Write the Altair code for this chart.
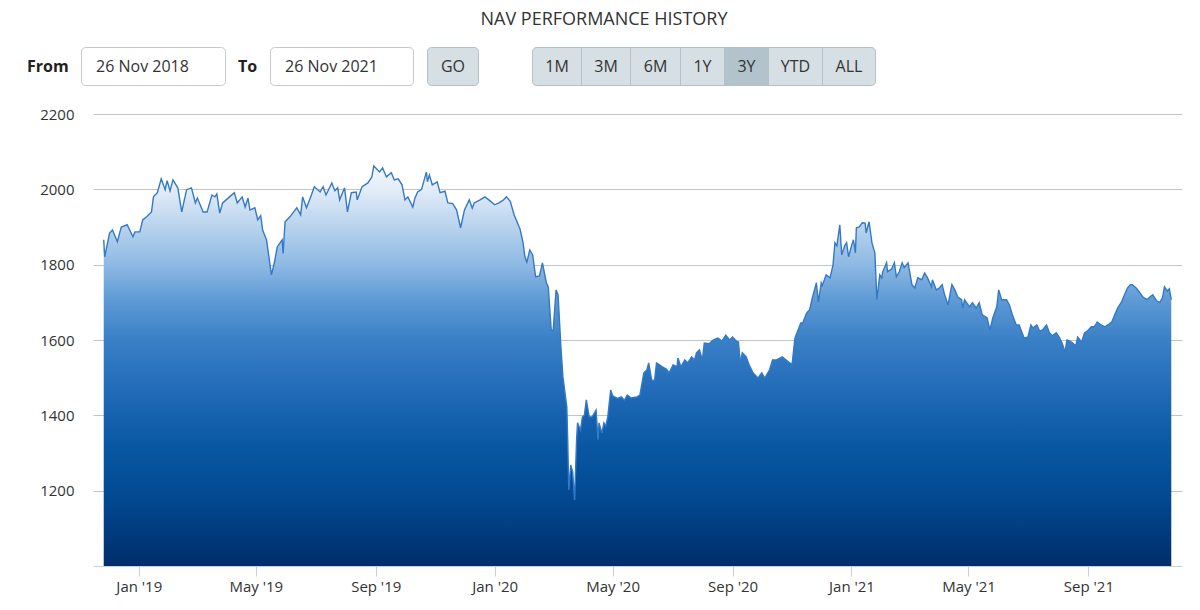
import altair as alt
import pandas as pd

# ---------------- data ----------------
start_date = "2018-11-26"
day_offset = [
    0, 1, 6, 9, 14, 18, 24, 30, 32, 37, 40, 44, 49, 51, 55, 59, 63, 65, 68, 71,
    76, 80, 85, 90, 94, 96, 102, 106, 111, 114, 116, 119, 122, 129, 134, 137, 142, 145, 148, 150,
    155, 158, 161, 163, 167, 172, 175, 178, 183, 184, 186, 191, 198, 202, 204, 208, 213, 216, 222, 225,
    228, 234, 237, 240, 242, 247, 250, 254, 259, 260, 265, 268, 271, 275, 277, 283, 286, 290, 295, 298,
    302, 306, 309, 312, 317, 319, 322, 326, 331, 332, 334, 337, 342, 345, 350, 353, 358, 362, 366, 370,
    375, 378, 380, 386, 391, 396, 401, 406, 410, 413, 417, 421, 427, 430, 432, 434, 437, 440, 443, 447,
    450, 454, 456, 459, 461, 464, 466, 469, 471, 475, 476, 477, 479, 481, 483, 485, 486, 489, 491, 493,
    495, 498, 501, 505, 507, 508, 511, 513, 515, 517, 520, 522, 524, 527, 531, 534, 537, 541, 547, 550,
    554, 557, 559, 562, 565, 567, 570, 573, 577, 580, 584, 588, 589, 592, 596, 599, 603, 606, 608, 611,
    614, 616, 621, 625, 630, 634, 638, 642, 645, 649, 651, 653, 655, 659, 662, 666, 671, 675, 678, 683,
    686, 690, 696, 700, 706, 709, 715, 717, 721, 724, 727, 731, 733, 736, 737, 741, 745, 748, 750, 752,
    755, 757, 760, 762, 764, 767, 769, 771, 772, 775, 778, 781, 782, 785, 788, 791, 793, 796, 798, 799,
    803, 804, 808, 811, 813, 816, 819, 821, 825, 829, 832, 835, 839, 842, 845, 849, 850, 854, 857, 860,
    862, 866, 870, 873, 876, 880, 881, 883, 888, 891, 895, 898, 901, 906, 909, 912, 916, 918, 921, 926,
    929, 932, 936, 939, 944, 948, 951, 953, 957, 960, 963, 967, 970, 973, 977, 980, 983, 986, 988, 991,
    994, 997, 999, 1003, 1006, 1009, 1013, 1016, 1019, 1023, 1027, 1030, 1034, 1037, 1040, 1044, 1047, 1050, 1053, 1055,
    1059, 1062, 1066, 1070, 1073, 1076, 1080, 1083, 1086, 1088, 1091, 1093, 1095,
]
nav = [
    1866, 1821, 1884, 1892, 1861, 1900, 1906, 1874, 1887, 1887, 1919, 1927, 1940, 1980, 1991, 2028, 1999, 2023, 1996, 2025,
    2004, 1940, 1999, 2004, 1964, 1977, 1940, 1940, 1985, 1980, 1988, 1937, 1964, 1980, 1991, 1964, 1980, 1953, 1977, 1945,
    1951, 1919, 1930, 1892, 1866, 1773, 1805, 1847, 1866, 1830, 1914, 1927, 1951, 1932, 1980, 1951, 1985, 2007, 1993, 2007,
    1985, 2017, 1996, 2004, 1972, 2004, 1940, 1991, 1993, 1972, 2007, 2012, 2017, 2033, 2062, 2046, 2057, 2033, 2044, 2025,
    2028, 2012, 1972, 1980, 1953, 1975, 1993, 2000, 2046, 2020, 2038, 2012, 2020, 1991, 1995, 1964, 1962, 1945, 1898, 1945,
    1972, 1950, 1964, 1972, 1980, 1970, 1959, 1965, 1972, 1980, 1968, 1932, 1895, 1860, 1821, 1807, 1839, 1826, 1768, 1770,
    1805, 1752, 1740, 1627, 1625, 1733, 1720, 1579, 1502, 1422, 1327, 1202, 1268, 1250, 1175, 1335, 1380, 1361, 1396, 1400,
    1441, 1396, 1396, 1414, 1335, 1380, 1353, 1380, 1372, 1396, 1467, 1452, 1449, 1445, 1449, 1440, 1454, 1446, 1449, 1454,
    1513, 1520, 1539, 1494, 1492, 1539, 1534, 1529, 1523, 1513, 1534, 1529, 1552, 1529, 1547, 1539, 1555, 1547, 1566, 1574,
    1547, 1592, 1590, 1600, 1605, 1597, 1613, 1600, 1608, 1597, 1595, 1539, 1566, 1555, 1534, 1513, 1499, 1513, 1499, 1521,
    1547, 1547, 1555, 1547, 1534, 1605, 1645, 1645, 1672, 1680, 1714, 1752, 1701, 1752, 1745, 1773, 1765, 1799, 1858, 1850,
    1906, 1826, 1850, 1858, 1821, 1850, 1866, 1831, 1898, 1900, 1911, 1910, 1884, 1914, 1858, 1831, 1707, 1773, 1765, 1781,
    1805, 1781, 1788, 1805, 1768, 1781, 1805, 1792, 1805, 1747, 1738, 1765, 1760, 1778, 1765, 1741, 1760, 1733, 1738, 1747,
    1725, 1693, 1747, 1733, 1714, 1707, 1685, 1707, 1688, 1699, 1685, 1699, 1667, 1659, 1627, 1659, 1688, 1733, 1707, 1707,
    1693, 1667, 1640, 1640, 1605, 1608, 1640, 1632, 1640, 1624, 1627, 1640, 1619, 1611, 1619, 1608, 1592, 1568, 1600, 1597,
    1592, 1584, 1608, 1595, 1619, 1624, 1635, 1635, 1648, 1640, 1635, 1640, 1648, 1667, 1685, 1701, 1720, 1738, 1747, 1747,
    1738, 1728, 1714, 1707, 1714, 1720, 1704, 1699, 1712, 1741, 1730, 1736, 1707,
]
y_ticks = [1200, 1400, 1600, 1800, 2000, 2200]
x_tick_months = [(2019, 1), (2019, 5), (2019, 9), (2020, 1), (2020, 5), (2020, 9),
                 (2021, 1), (2021, 5), (2021, 9)]
title_text = "NAV PERFORMANCE HISTORY"
from_date_text = "26 Nov 2018"
to_date_text = "26 Nov 2021"
range_buttons = ["1M", "3M", "6M", "1Y", "3Y", "YTD", "ALL"]
selected_button = "3Y"

# ---------------- build table ----------------
dates = pd.Timestamp(start_date) + pd.to_timedelta(day_offset, unit="D")
df = pd.DataFrame({"date": dates.strftime("%Y-%m-%dT00:00:00"), "nav": nav})

FONT = "Open Sans"
TXT = "#333333"

x_enc = alt.X(
    "date:T",
    scale=alt.Scale(domain=[alt.DateTime(year=2018, month=11, date=15),
                            alt.DateTime(year=2021, month=12, date=6)]),
    axis=alt.Axis(
        values=[alt.DateTime(year=y, month=m, date=1) for y, m in x_tick_months],
        format="%b '%y", title=None, grid=False,
        labelFont=FONT, labelFontSize=15, labelColor=TXT, labelPadding=3,
        domainColor="#c3d0dd", tickColor="#c3d0dd", tickSize=10,
        labelFlush=False, labelOverlap=False, zindex=1,
    ),
)
y_enc = alt.Y(
    "nav:Q",
    scale=alt.Scale(domain=[1000, 2200], zero=False, nice=False),
    axis=alt.Axis(
        values=y_ticks, format="d", title=None, grid=True, gridColor="#c4c4c4", gridWidth=1,
        domain=False, ticks=False, labelFont=FONT, labelFontSize=15,
        labelColor=TXT, labelPadding=19,
    ),
)

gradient = alt.Gradient(
    gradient="linear", x1=1, x2=1, y1=0, y2=1,
    stops=[
        alt.GradientStop(color="#f4f8fc", offset=0.0),
        alt.GradientStop(color="#e2ecf7", offset=0.06),
        alt.GradientStop(color="#c0d7ef", offset=0.135),
        alt.GradientStop(color="#8cb8e3", offset=0.25),
        alt.GradientStop(color="#5e9ad5", offset=0.335),
        alt.GradientStop(color="#3a80c7", offset=0.435),
        alt.GradientStop(color="#1d67b5", offset=0.585),
        alt.GradientStop(color="#0856a2", offset=0.71),
        alt.GradientStop(color="#024890", offset=0.835),
        alt.GradientStop(color="#002d6b", offset=1.0),
    ],
)

base = alt.Chart(df)
area = base.mark_area(color=gradient, interpolate="linear").encode(
    x=x_enc, y=y_enc, y2=alt.datum(1000)
)
line = base.mark_line(color="#3479c6", strokeWidth=1.4).encode(x="date:T", y="nav:Q")

# ---------------- header widgets (page pixel -> plot coords: x-93, y-114) ----------------
OX, OY = 93, 114
one = alt.Data(values=[{"k": 0}])


def box(x0, x1, y0, y1, fill, stroke, radius=4):
    return alt.Chart(one).mark_rect(fill=fill, stroke=stroke, strokeWidth=1,
                                    cornerRadius=radius).encode(
        x=alt.value(x0 - OX), x2=alt.value(x1 - OX),
        y=alt.value(y0 - OY), y2=alt.value(y1 - OY))


def label(s, x, y, size=16, weight="normal", align="left", color=TXT):
    return alt.Chart(one).mark_text(text=s, font=FONT, fontSize=size, fontWeight=weight,
                                    align=align, baseline="middle", color=color).encode(
        x=alt.value(x - OX), y=alt.value(y - OY))


def vline(x, y0, y1, color):
    return alt.Chart(one).mark_rule(color=color, strokeWidth=1).encode(
        x=alt.value(x - OX), y=alt.value(y0 - OY), y2=alt.value(y1 - OY))


BTN = "#d6dfe4"
BTN_SEL = "#b3c3cb"
BTN_BORDER = "#b3c0c7"
top, bot, mid = 47.5, 85.5, 67

widgets = [
    label(title_text, 604, 20, size=18, align="center"),
    label("From", 27, mid, weight="bold", color="#222222"),
    box(81.5, 225.5, top, bot, "#ffffff", "#c9c9c9"),
    label(from_date_text, 96, mid),
    label("To", 238, mid, weight="bold", color="#222222"),
    box(270.5, 413.5, top, bot, "#ffffff", "#c9c9c9"),
    label(to_date_text, 285, mid),
    box(427.5, 478.5, top, bot, BTN, BTN_BORDER),
    label("GO", 453, mid, align="center"),
    box(532.5, 875.5, top, bot, BTN, BTN_BORDER),
]
edges = [532.5, 581.5, 630.5, 680.5, 724.5, 768.5, 822.5, 875.5]
for i, b in enumerate(range_buttons):
    x0, x1 = edges[i], edges[i + 1]
    if b == selected_button:
        widgets.append(box(x0, x1, top, bot, BTN_SEL, BTN_BORDER, radius=0))
    if 0 < i:
        widgets.append(vline(x0, top, bot, BTN_BORDER))
    widgets.append(label(b, (x0 + x1) / 2, mid, align="center"))

chart = alt.layer(area, line, *widgets).properties(
    width=1089, height=452,
    autosize=alt.AutoSizeParams(type="none"),
    padding={"left": 93, "top": 114, "right": 18, "bottom": 44},
    background="#ffffff",
).configure_view(strokeWidth=0)

chart.save("out.html", embed_options={"renderer": "svg", "actions": False})
